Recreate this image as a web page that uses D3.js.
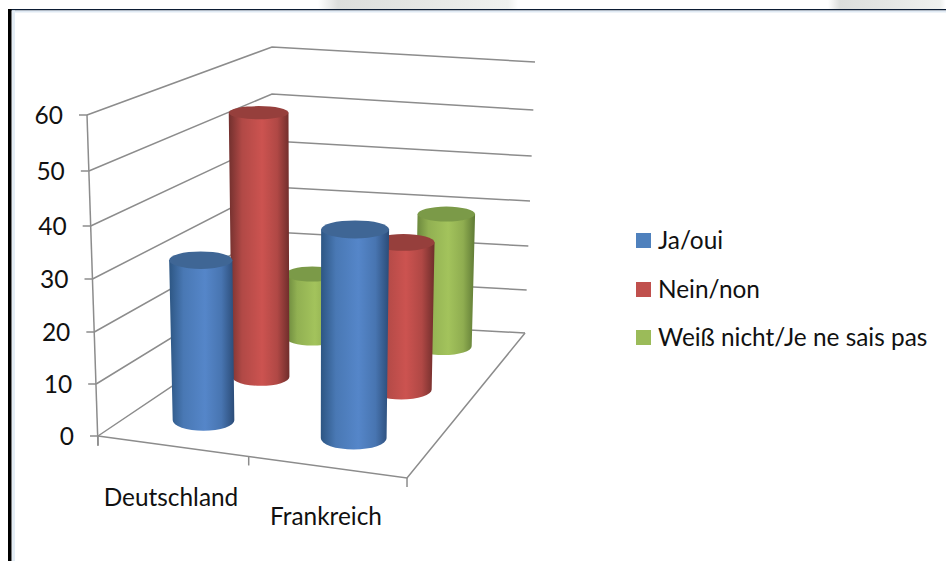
<!DOCTYPE html>
<html><head><meta charset="utf-8">
<script src="https://cdnjs.cloudflare.com/ajax/libs/d3/7.8.5/d3.min.js"></script>
<style>html,body{margin:0;padding:0;background:#fff}svg{display:block}text{font-family:Lato,"Open Sans",sans-serif;fill:#111}</style>
</head><body><div id="c"></div>
<script>
// data
const categories = ["Deutschland", "Frankreich"];
const seriesNames = ["Ja/oui", "Nein/non", "Weiß nicht/Je ne sais pas"];
const jaOui = [30, 37.5];
const neinNon = [52.5, 28.5];
const weissNicht = [13.5, 28];
const valueTicks = [0, 10, 20, 30, 40, 50, 60];

const W = 946, H = 561;
const svg = d3.select("#c").append("svg").attr("width", W).attr("height", H);
const defs = svg.append("defs");

// window chrome
const smudge = defs.append("linearGradient").attr("id", "sm").attr("x1", 0).attr("x2", 1);
[[0, "#ffffff"], [.1, "#dcdedc"], [.5, "#e4e6e4"], [.95, "#eff1ef"], [1, "#ffffff"]].forEach(s => smudge.append("stop").attr("offset", s[0]).attr("stop-color", s[1]));
svg.append("rect").attr("x", 318).attr("y", 0).attr("width", 200).attr("height", 9).attr("fill", "url(#sm)");
svg.append("rect").attr("x", 828).attr("y", 0).attr("width", 118).attr("height", 9).attr("fill", "url(#sm)");
svg.append("rect").attr("x", 8).attr("y", 9).attr("width", W - 8).attr("height", 1.5).attr("fill", "#0c1c33");
svg.append("rect").attr("x", 12).attr("y", 10.5).attr("width", W - 12).attr("height", 2).attr("fill", "#dfe9f3");
svg.append("rect").attr("x", 12).attr("y", 10.5).attr("width", 3).attr("height", H).attr("fill", "#e4edf5");
svg.append("rect").attr("x", 8).attr("y", 9).attr("width", 3.5).attr("height", H).attr("fill", "#000");

// 3D frame scales (perspective makes the upper steps slightly longer)
const vDomain = d3.extent(valueTicks);
const frontLeftX = d3.scaleLinear(vDomain, [98, 87]);
const frontLeftY = d3.scaleLinear(valueTicks, [436, 384, 332, 279, 226, 171, 115]);
const backLeftX = d3.scaleLinear(vDomain, [272, 272]);
const backLeftY = d3.scaleLinear(valueTicks, [319, 276, 232, 187, 141, 94, 47]);
const backRightX = d3.scaleLinear(vDomain, [525, 535]);
const backRightY = d3.scaleLinear(valueTicks, [333, 290, 246, 201, 156, 110, 62]);

// floor homography (u along categories, w into depth)
const P = {a: 245.6, b: 254, c: 98, d: -32.5, e: -24.5, f: 436, g: -.1558, h: .294};
function floor(u, w) {
  const den = 1 + P.g * u + P.h * w;
  return {x: (P.a * u + P.b * w + P.c) / den, y: (P.d * u + P.e * w + P.f) / den, den};
}
const FR = floor(1, 0), BR = floor(1, 1), FL = floor(0, 0);

const gridCol = "#8c8c8c";
const g = svg.append("g").attr("fill", "none").attr("stroke", gridCol).attr("stroke-width", 1.5);
// walls
g.selectAll(".grid").data(valueTicks).join("polyline").attr("class", "grid")
  .attr("points", v => [[frontLeftX(v), frontLeftY(v)], [backLeftX(v), backLeftY(v)], [backRightX(v), backRightY(v)]].join(" "));
// left axis and ticks
g.append("line").attr("x1", frontLeftX(0)).attr("y1", frontLeftY(0) + 10).attr("x2", frontLeftX(60)).attr("y2", frontLeftY(60));
g.selectAll(".tk").data(valueTicks).join("line").attr("class", "tk")
  .attr("x1", v => frontLeftX(v) - 8).attr("x2", v => frontLeftX(v))
  .attr("y1", v => frontLeftY(v)).attr("y2", v => frontLeftY(v));
// floor edges
g.append("polyline").attr("points", [[FL.x, FL.y], [FR.x, FR.y], [BR.x, BR.y]].join(" "));
g.selectAll(".ctk").data([0, .53, 1]).join("line").attr("class", "ctk")
  .attr("x1", u => floor(u, 0).x).attr("x2", u => floor(u, 0).x)
  .attr("y1", u => floor(u, 0).y).attr("y2", u => floor(u, 0).y + 9);

// value labels
svg.selectAll(".vl").data(valueTicks).join("text").attr("class", "vl")
  .attr("x", v => frontLeftX(v) - 24).attr("y", v => frontLeftY(v) + 9)
  .attr("text-anchor", "end").attr("font-size", 24.5).text(v => v);

// category labels
const catLabelPos = [[171, 506], [326, 525]];
svg.selectAll(".cl").data(categories).join("text").attr("class", "cl")
  .attr("x", (d, i) => catLabelPos[i][0]).attr("y", (d, i) => catLabelPos[i][1])
  .attr("text-anchor", "middle").attr("font-size", 24.4).text(d => d);

// cylinders
const pals = [
  {edgeL: "#2d5683", mid: "#5586c9", edgeR: "#2b4c78", top: "#3f6695", sw: "#4f81bd"},
  {edgeL: "#72302e", mid: "#cc5350", edgeR: "#6f2d2b", top: "#963f3c", sw: "#c0504d"},
  {edgeL: "#66823a", mid: "#a3c35c", edgeR: "#5f7a35", top: "#7b9a48", sw: "#9bbb59"}
];
pals.forEach((p, i) => {
  const lg = defs.append("linearGradient").attr("id", "cyl" + i).attr("x1", 0).attr("x2", 1);
  [[0, p.edgeL], [.22, d3.interpolateRgb(p.edgeL, p.mid)(.7)], [.55, p.mid], [.8, d3.interpolateRgb(p.edgeR, p.mid)(.7)], [1, p.edgeR]]
    .forEach(s => lg.append("stop").attr("offset", s[0]).attr("stop-color", s[1]));
});
const uScale = d3.scalePoint().domain(categories).range([.265, .768]);
const depthSlots = [.165, .49, .84];
const kLeft = d3.scaleLinear([0, 1], [5.35, 4.55]);
const kRight = d3.scaleLinear([0, 1], [5.9, 4.52]);
const lean = .00016, xc = 311;
const tilt = y => .215 + .00038 * (y - 100);

const allSeries = [jaOui, neinNon, weissNicht];
const bars = [];
allSeries.forEach((vals, s) => vals.forEach((v, c) => bars.push({s, c, v})));
bars.sort((a, b) => (b.s - a.s) || (a.c - b.c));

const cyl = svg.append("g");
bars.forEach(d => {
  const u = uScale(categories[d.c]), w = depthSlots[d.s];
  const b = floor(u, w);
  const k = d3.interpolateNumber(kLeft(w), kRight(w))(u);
  const h = d.v * k;
  const r0 = 31 / Math.pow(b.den, .8);
  const topY = b.y - h;
  const topX = b.x + (b.x - xc) * h * lean;
  const r1 = r0 * (1 + h * lean);
  const ry0 = r0 * tilt(b.y), ry1 = r1 * tilt(topY);
  cyl.append("path")
    .attr("d", `M${topX - r1},${topY}L${b.x - r0},${b.y}A${r0},${ry0} 0 0 0 ${b.x + r0},${b.y}L${topX + r1},${topY}Z`)
    .attr("fill", `url(#cyl${d.s})`);
  cyl.append("ellipse").attr("cx", topX).attr("cy", topY).attr("rx", r1).attr("ry", ry1).attr("fill", pals[d.s].top);
});

// legend
const legendY = [233, 282, 330];
const lg = svg.selectAll(".lg").data(seriesNames).join("g").attr("class", "lg");
lg.append("rect").attr("x", 636).attr("y", (d, i) => legendY[i]).attr("width", 15).attr("height", 15).attr("fill", (d, i) => pals[i].sw);
lg.append("text").attr("x", 658).attr("y", (d, i) => legendY[i] + 16).attr("font-size", 24.4).text(d => d);
</script></body></html>
